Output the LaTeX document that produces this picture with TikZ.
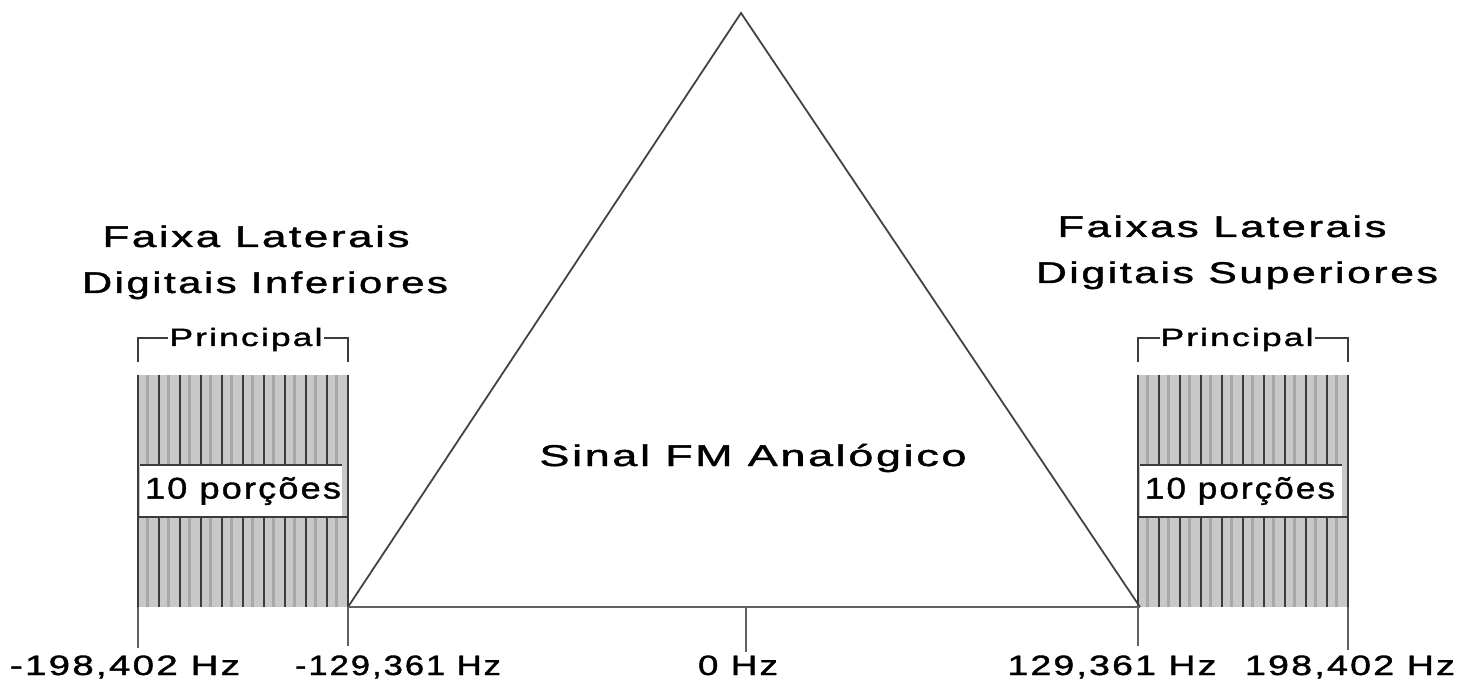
\documentclass[tikz,border=0pt]{standalone}
\usepackage{fontspec}
\setmainfont{Liberation Sans}[LetterSpace=6,FakeBold=1.2]
\usepackage{graphicx}
\newcommand{\tw}[2]{\resizebox{#1pt}{\height}{#2}}
\definecolor{bandlight}{HTML}{C8C8C8}
\definecolor{bandmid}{HTML}{A8A8A8}
\definecolor{bandline}{HTML}{3C3C3C}
\definecolor{axis}{HTML}{606060}
\tikzset{
  lbl/.style={inner sep=0pt, anchor=base, font=\fontsize{28}{30}\selectfont},
  ttl/.style={inner sep=0pt, anchor=base, font=\fontsize{30}{32}\selectfont},
  prc/.style={inner sep=1pt, fill=white, anchor=base, font=\fontsize{25}{27}\selectfont},
  tick/.style={draw=axis, line width=2pt},
  tri/.style={draw=axis!70!black, line width=1.8pt},
  brk/.style={draw=bandline, line width=2pt},
  bline/.style={draw=bandline, line width=2.4pt},
}
\begin{document}
\begin{tikzpicture}[x=1pt,y=-1pt]
\useasboundingbox (0,0) rectangle (1470,684);
% bands
\foreach \xo in {138,1138}{
  \fill[bandlight] (\xo,375) rectangle ({\xo+210},607);
  \foreach \i in {0,...,9} \fill[bandmid] ({\xo+21*\i+8},375) rectangle ({\xo+21*\i+11},607);
  \foreach \i in {0,...,10} \draw[bline] ({\xo+21*\i},375) -- ({\xo+21*\i},607);
  \fill[white] (\xo+2,465) rectangle ({\xo+204},517);
  \draw[bline] (\xo+2,465) -- ({\xo+204},465);
  \draw[bline] (\xo,517) -- ({\xo+210},517);
  \draw[bline] (\xo,375) -- (\xo,607);
}
% band labels
\node[inner sep=0pt, font=\fontsize{30}{32}\selectfont] (pl) at (243,491) {\tw{196}{10 porções}};
\node[inner sep=0pt, font=\fontsize{30}{32}\selectfont] (pr) at (1240,491) {\tw{190}{10 porções}};
% Principal brackets
\coordinate (lbl1) at (138,362); \coordinate (lbl2) at (138,338);
\coordinate (lbr1) at (348,362); \coordinate (lbr2) at (348,338);
\draw[brk] (lbl1) -- (lbl2) -- (lbr2) -- (lbr1);
\node[prc] (prl) at (246,346) {\tw{153}{Principal}};
\coordinate (rbl1) at (1138,362); \coordinate (rbl2) at (1138,338);
\coordinate (rbr1) at (1348,362); \coordinate (rbr2) at (1348,338);
\draw[brk] (rbl1) -- (rbl2) -- (rbr2) -- (rbr1);
\node[prc] (prr) at (1237,346) {\tw{153}{Principal}};
% titles
\node[ttl] (t1) at (256,247) {\tw{307}{Faixa Laterais}};
\node[ttl] (t2) at (265,293) {\tw{366}{Digitais Inferiores}};
\node[ttl] (t3) at (1222,237) {\tw{329}{Faixas Laterais}};
\node[ttl] (t4) at (1237,283) {\tw{402}{Digitais Superiores}};
% triangle
\coordinate (apex) at (741,13);
\coordinate (bl) at (348,607);
\coordinate (br) at (1140,607);
\draw[tri] (bl) -- (apex) -- (br);
\draw[draw=axis, line width=2.4pt] (bl) -- (br);
\node[ttl] (sig) at (753,466) {\tw{427}{Sinal FM Analógico}};
% ticks and labels
\node[lbl] (f1) at (125,675) {\tw{230}{-198,402 Hz}};
\node[lbl] (f2) at (398,675) {\tw{206}{-129,361 Hz}};
\node[lbl] (f3) at (738,675) {\tw{80}{0 Hz}};
\node[lbl] (f4) at (1112,675) {\tw{209}{129,361 Hz}};
\node[lbl] (f5) at (1350,675) {\tw{210}{198,402 Hz}};
\coordinate (k1) at (138,607); \coordinate (k1e) at (138,648);
\coordinate (k2) at (348,607); \coordinate (k2e) at (348,646);
\coordinate (k3) at (746,607); \coordinate (k3e) at (746,652);
\coordinate (k4) at (1138,607); \coordinate (k4e) at (1138,646);
\coordinate (k5) at (1348,607); \coordinate (k5e) at (1348,650);
\foreach \k in {1,...,5} \draw[tick] (k\k) -- (k\k e);
\end{tikzpicture}
\end{document}
